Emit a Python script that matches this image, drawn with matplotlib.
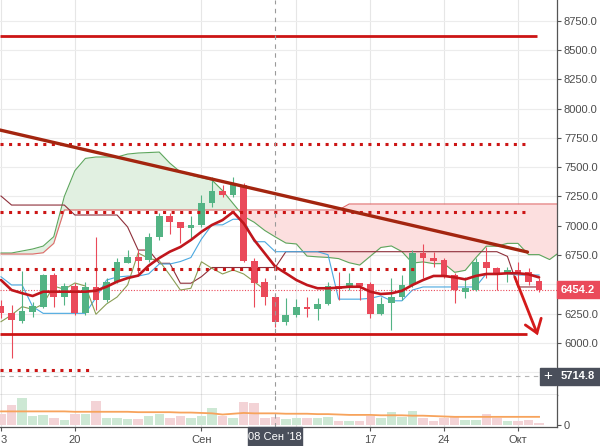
import matplotlib
matplotlib.use("Agg")
import matplotlib.pyplot as plt
from matplotlib.patches import Rectangle
import numpy as np

plt.rcParams['font.family'] = ['Liberation Sans', 'DejaVu Sans']

# ---------------- data ----------------
days = list(range(52))          # 0 = 13 Aug 2018, daily candles
opens = [6316, 6256, 6190, 6267, 6310, 6580, 6392, 6486, 6256, 6478, 6367, 6523, 6685, 6734,
         6708, 6907, 7083, 7032, 6983, 7007, 7194, 7297, 7262, 7348, 6702, 6520, 6395, 6182,
         6239, 6310, 6290, 6333, 6486, 6480, 6514, 6503, 6247, 6339, 6390, 6495, 6768, 6722,
         6708, 6580, 6438, 6452, 6693, 6637, 6594, 6623, 6608, 6529]
highs = [6367, 6324, 6615, 6350, 6590, 6597, 6512, 6512, 6523, 6904, 6554, 6725, 6793, 6793,
         6941, 7109, 7109, 7032, 7083, 7262, 7419, 7348, 7419, 7367, 6725, 6554, 6409, 6384,
         6375, 6395, 6384, 6523, 6608, 6597, 6514, 6523, 6395, 6554, 6580, 6793, 6844, 6779,
         6722, 6597, 6566, 6725, 6821, 6651, 6651, 6693, 6637, 6552]
lows = [6213, 5870, 6171, 6222, 6299, 6310, 6324, 6239, 6239, 6281, 6350, 6512, 6680, 6597,
        6693, 6879, 6930, 6853, 6896, 6990, 7163, 7248, 7245, 6691, 6310, 6324, 6139, 6154,
        6224, 6224, 6196, 6324, 6367, 6452, 6367, 6213, 6239, 6111, 6367, 6478, 6554, 6651,
        6554, 6339, 6381, 6444, 6554, 6452, 6523, 6480, 6495, 6438]
closes = [6256, 6196, 6276, 6316, 6580, 6395, 6486, 6256, 6480, 6367, 6523, 6693, 6734, 6702,
          6907, 7083, 7035, 6983, 7009, 7194, 7297, 7262, 7348, 6702, 6514, 6395, 6182, 6239,
          6310, 6287, 6333, 6486, 6458, 6512, 6486, 6245, 6333, 6392, 6495, 6768, 6722, 6702,
          6580, 6452, 6467, 6693, 6637, 6589, 6623, 6589, 6523, 6454.2]
volumes = [30, 53, 70, 25, 27, 20, 13, 30, 30, 62, 20, 20, 17, 17, 25, 30, 20, 25, 20, 23,
           45, 25, 20, 60, 57, 20, 22, 17, 20, 19, 19, 22, 12, 12, 12, 25, 20, 34, 22, 37,
           20, 12, 20, 22, 15, 15, 29, 20, 12, 12, 15, 7]
volume_ma = [36, 36, 36, 36, 36, 36, 36, 35, 35, 35, 35, 35, 35, 34, 34, 34, 34, 33, 33, 32,
             31, 28, 30, 32, 31, 31, 31, 30, 30, 30, 29, 29, 28, 27, 27, 27, 26, 26, 26, 25,
             25, 24, 23, 22, 22, 22, 22, 22, 22, 22, 22, 22]
ma_line = [6537, 6452, 6425, 6401, 6438, 6438, 6438, 6438, 6438, 6446, 6480, 6523, 6554, 6575,
           6660, 6725, 6779, 6819, 6879, 6949, 7007, 7049, 7118, 7021, 6879, 6765, 6651, 6595,
           6537, 6495, 6467, 6467, 6472, 6480, 6480, 6438, 6418, 6424, 6445, 6495, 6537, 6572,
           6572, 6560, 6543, 6572, 6589, 6589, 6595, 6595, 6586, 6560]
tenkan = [6565, 6495, 6495, 6310, 6253, 6253, 6253, 6253, 6253, 6387, 6537, 6563, 6571, 6571,
          6590, 6674, 6674, 6695, 6729, 6887, 7008, 7008, 7056, 7055, 6864, 6864, 6779, 6779,
          6779, 6779, 6779, 6753, 6374, 6374, 6374, 6381, 6402, 6360, 6360, 6452, 6478, 6478,
          6478, 6478, 6478, 6478, 6592, 6592, 6592, 6580, 6580, 6580]
kijun = [7254, 7177, 7177, 7177, 7177, 7177, 7177, 7092, 7092, 7092, 7092, 7092, 6990, 6793,
         6793, 6680, 6680, 6510, 6510, 6566, 6644, 6644, 6644, 6644, 6644, 6644, 6644, 6779,
         6779, 6779, 6779, 6779, 6779, 6779, 6779, 6779, 6779, 6779, 6779, 6779, 6779, 6779,
         6779, 6779, 6779, 6779, 6779, 6779, 6739, 6478, 6478, 6478]
chikou_days = list(range(26))
chikou = [6182, 6239, 6310, 6287, 6333, 6486, 6458, 6512, 6486, 6245, 6333, 6392, 6495, 6768,
          6722, 6702, 6580, 6452, 6467, 6693, 6637, 6589, 6623, 6589, 6523, 6454.2]
cloud_days = list(range(54))
span_a = [6768, 6768, 6785, 6802, 6827, 6907, 7250, 7470, 7575, 7587, 7587, 7587, 7612, 7621,
          7625, 7629, 7535, 7459, 7433, 7410, 7390, 7300, 7190, 7080, 7030, 6960, 6905, 6853,
          6845, 6742, 6735, 6730, 6720, 6685, 6665, 6740, 6815, 6828, 6780, 6682, 6692, 6677,
          6677, 6603, 6620, 6727, 6826, 6826, 6850, 6850, 6754, 6754, 6712, 6779]
span_b = [6759, 6759, 6759, 6759, 6770, 6850, 7135, 7135, 7135, 7135, 7135, 7135, 7135, 7135,
          7135, 7135, 7135, 7135, 7135, 7135, 7135, 7135, 7135, 7135, 7135, 7135, 7135, 7135,
          7135, 7135, 7135, 7135, 7135, 7186, 7186, 7186, 7186, 7186, 7186, 7186, 7186, 7186,
          7186, 7186, 7186, 7186, 7186, 7186, 7186, 7186, 7186, 7186, 7186, 7186]
grid_prices = [5750, 6000, 6250, 6500, 6750, 7000, 7250, 7500, 7750, 8000, 8250, 8500, 8750]
label_prices = [6000, 6250, 6750, 7000, 7250, 7500, 7750, 8000, 8250, 8500, 8750]
grid_days = [0, 7, 19, 28, 35, 42, 49]
label_days = [0, 7, 19, 35, 42, 49]
date_labels = ['3', '20', 'Сен', '17', '24', 'Окт']
last_price = 6454.2
cross_price = 5714.8
cross_day = 26
cross_label = "08 Сен '18"
solid_levels = [8620, 6077]
solid_level_end = [50.8, 49.9]
dotted_levels = [7698, 7118, 6631, 5770]
dotted_level_end = [49.9, 49.9, 39.5, 8.6]
trend_days = [-0.1, 49.9]
trend_prices = [7817, 6776]
arrow_days = [48.7, 50.8]
arrow_prices = [6563, 6085]
arrow_head_days = [49.7, 50.8, 51.2]
arrow_head_prices = [6154, 6085, 6211]

# ---------------- layout ----------------
W, H = 600, 446
fig = plt.figure(figsize=(W / 100, H / 100), dpi=100)
main_bot, vol_top, vol_bot, right = 395, 395, 427, 557

ax = fig.add_axes([0, 1 - main_bot / H, right / W, main_bot / H])
axv = fig.add_axes([0, 1 - vol_bot / H, right / W, (vol_bot - vol_top) / H], sharex=ax)

ax.set_xlim(-0.095, 52.7)
ax.set_ylim(5556.3, 8926.5)
axv.set_ylim(-4, 78)

GREEN, RED = '#53b384', '#ea4a5a'
AXC = '#555555'
TXT = '#4c4c4c'

# grid
for a in (ax, axv):
    for d in grid_days:
        a.axvline(d, color='#e6e6e6', lw=0.8, zorder=0)
for p in grid_prices:
    ax.axhline(p, color='#ececec', lw=0.8, zorder=0)

# cloud
sa, sb = np.array(span_a), np.array(span_b)
ax.fill_between(cloud_days, sa, sb, where=sa >= sb, interpolate=True, color='#e1f0e1', lw=0, zorder=1)
ax.fill_between(cloud_days, sa, sb, where=sa < sb, interpolate=True, color='#fcdfdf', lw=0, zorder=1)
ax.plot(cloud_days, span_a, color='#5da65d', lw=0.8, zorder=2)
ax.plot(cloud_days, span_b, color='#e06a6a', lw=0.8, zorder=2)

# ichimoku lines
ax.plot(days, kijun, color='#8e2f3a', lw=0.8, zorder=2)
ax.plot(days, tenkan, color='#4aa8e0', lw=0.8, zorder=2)
ax.plot(chikou_days, chikou, color='#8a9d55', lw=0.8, zorder=2)

# candles
for d, o, h, l, c in zip(days, opens, highs, lows, closes):
    col = GREEN if c >= o else RED
    ax.vlines(d, l, h, color=col, lw=0.8, zorder=3)
    ax.bar(d, max(abs(c - o), 10), bottom=min(o, c), width=0.64, color=col, lw=0, zorder=3)

# moving average
ax.plot(days, ma_line, color='#c0161c', lw=1.9, zorder=4, solid_capstyle='round')

# last price line
ax.axhline(last_price, color=RED, lw=0.8, ls=(0, (1, 1.5)), zorder=2)

# drawings
for lvl, end in zip(solid_levels, solid_level_end):
    ax.plot([-0.1, end], [lvl, lvl], color='#cc1515', lw=2.0, zorder=5, solid_capstyle='butt')
for lvl, end in zip(dotted_levels, dotted_level_end):
    ax.plot([-0.1, end], [lvl, lvl], color='#cc1515', lw=2.2, ls=(0, (1, 1.8)),
            dash_capstyle='butt', zorder=5)
ax.plot(trend_days, trend_prices, color='#a3250f', lw=2.4, zorder=5, solid_capstyle='round')
ax.plot(arrow_days, arrow_prices, color='#d41a1a', lw=2.0, zorder=5, solid_capstyle='round')
ax.plot(arrow_head_days, arrow_head_prices, color='#d41a1a', lw=2.0, zorder=5,
        solid_capstyle='round', solid_joinstyle='miter')

# crosshair
for a in (ax, axv):
    a.axvline(cross_day, color='#9a9a9a', lw=0.8, ls=(0, (4, 4)), zorder=6)
ax.axhline(cross_price, color='#b5b5b5', lw=0.8, ls=(0, (4, 4)), zorder=6)

# volume
vcols = ['#cde8d4' if c >= o else '#f3d3d6' for o, c in zip(opens, closes)]
axv.bar(days, volumes, width=0.9, color=vcols, lw=0, zorder=2)
axv.plot(days, volume_ma, color='#f7a35c', lw=1.3, zorder=3)

# axes styling
for a in (ax, axv):
    for s in ('top', 'left'):
        a.spines[s].set_visible(False)
    for s in ('right', 'bottom'):
        a.spines[s].set_color(AXC)
        a.spines[s].set_linewidth(0.9)
    a.yaxis.tick_right()
    a.tick_params(axis='y', colors=AXC, labelcolor=TXT, labelsize=8, length=3, width=0.8, pad=2)

ax.set_yticks(label_prices)
ax.set_yticklabels([f'{p:.1f}' for p in label_prices])
ax.tick_params(axis='x', bottom=False, labelbottom=False)

axv.set_yticks([0])
axv.set_yticklabels(['0'])
axv.set_xticks(label_days)
axv.set_xticklabels(date_labels)
axv.tick_params(axis='x', colors=AXC, labelcolor=TXT, labelsize=8, length=3, width=0.8, pad=3)
axv.get_xticklabels()[0].set_horizontalalignment('left')

# ---------------- axis label boxes ----------------
def price_to_fig(p):
    return ax.transData.transform((0, p))[1] / H

def day_to_fig(d):
    return ax.transData.transform((d, 0))[0] / W

BOX_H = 17 / H
# last price box
yc = price_to_fig(last_price)
fig.patches.append(Rectangle((right / W, yc - BOX_H / 2), (W - right) / W, BOX_H,
                             transform=fig.transFigure, color=RED, zorder=10))
fig.text((right + 4) / W, yc, f'{last_price:.1f}', color='white', fontsize=8,
         fontweight='bold', va='center', ha='left', zorder=11)
# crosshair price box
yc = price_to_fig(cross_price)
fig.patches.append(Rectangle((right / W, yc - BOX_H / 2), (W - right) / W, BOX_H,
                             transform=fig.transFigure, color='#4a4f5b', zorder=10))
fig.text((right + 4) / W, yc, f'{cross_price:.1f}', color='white', fontsize=8,
         fontweight='bold', va='center', ha='left', zorder=11)
fig.patches.append(Rectangle(((right - 17) / W, yc - BOX_H / 2), 16 / W, BOX_H,
                             transform=fig.transFigure, color='#4a4f5b', zorder=10))
fig.text((right - 9) / W, yc, '+', color='white', fontsize=11, va='center', ha='center', zorder=11)
# crosshair date box
xc = day_to_fig(cross_day)
fig.patches.append(Rectangle((xc - 27 / W, 0), 54 / W, (H - vol_bot) / H,
                             transform=fig.transFigure, color='#4a4f5b', zorder=10))
fig.text(xc, (H - vol_bot) / H / 2, cross_label, color='white', fontsize=8,
         va='center', ha='center', zorder=11)

fig.savefig('out.png', dpi=100)
